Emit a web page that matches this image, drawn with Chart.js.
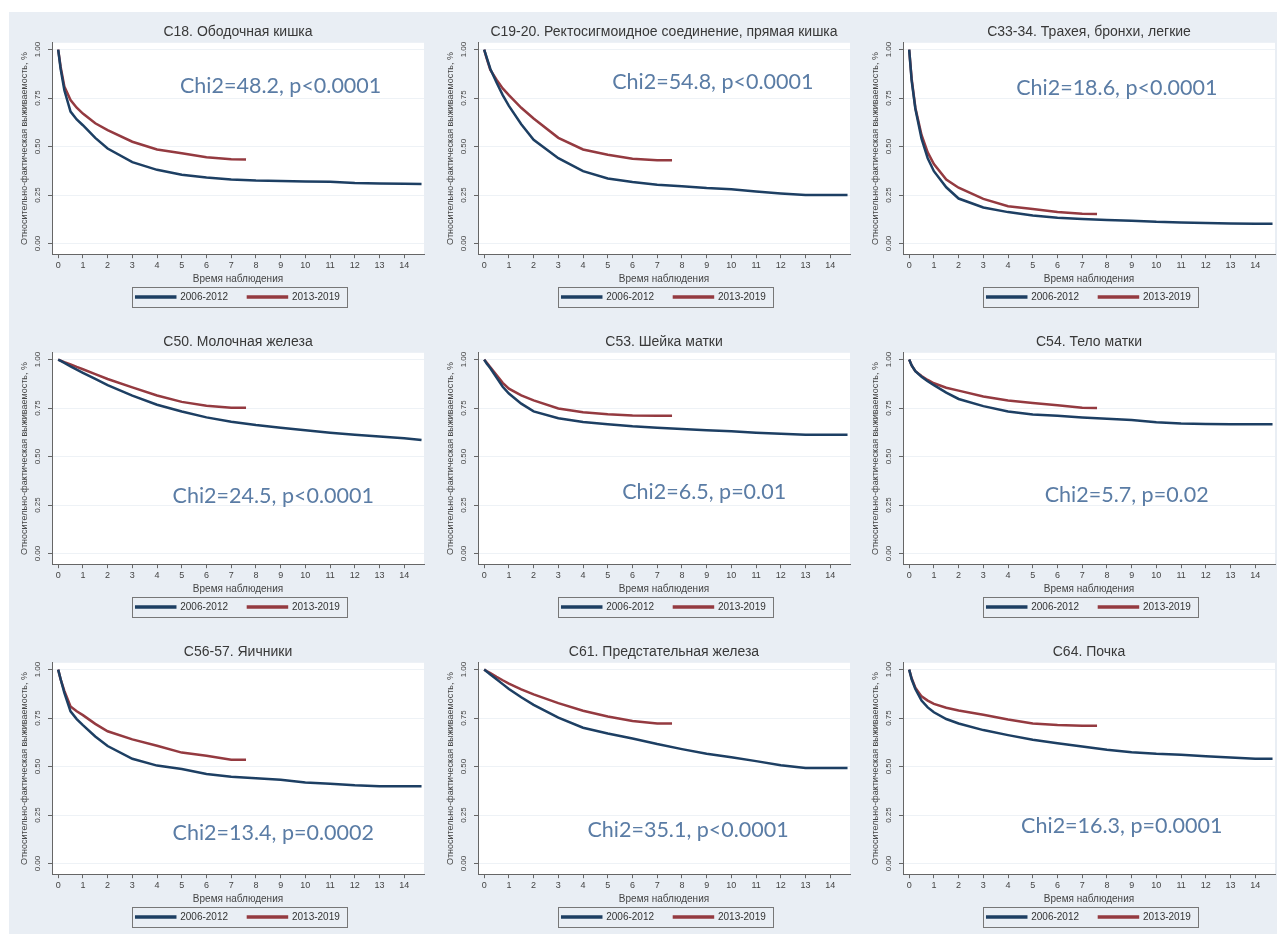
<!DOCTYPE html>
<html>
<head>
<meta charset="utf-8">
<script src="https://cdn.jsdelivr.net/npm/chart.js@4.4.1/dist/chart.umd.min.js"></script>
<style>
  html, body { margin: 0; padding: 0; background: #fff; overflow: hidden; }
  #grid { position: absolute; left: 9px; top: 12px; width: 1280px; background: #e9eef4; }
  canvas { position: absolute; }
</style>
</head>
<body>
<div id="grid"></div>
<script>
// follow-up time grid (years)
const timeOld = [0, 0.1, 0.25, 0.5, 0.75, 1, 1.5, 2, 3, 4, 5, 6, 7, 8, 9, 10, 11, 12, 13, 14, 14.7];
const timeNew = [0, 0.1, 0.25, 0.5, 0.75, 1, 1.5, 2, 3, 4, 5, 6, 7, 7.6];
const seriesLabels = ['2006-2012', '2013-2019'];
const xTicks = [0, 1, 2, 3, 4, 5, 6, 7, 8, 9, 10, 11, 12, 13, 14];
const yTicks = [0, 0.25, 0.5, 0.75, 1];

const c18Old = [1, 0.90, 0.79, 0.68, 0.64, 0.61, 0.545, 0.49, 0.42, 0.38, 0.355, 0.34, 0.33, 0.325, 0.323, 0.32, 0.318, 0.312, 0.31, 0.308, 0.307];
const c18New = [1, 0.91, 0.81, 0.74, 0.70, 0.67, 0.62, 0.585, 0.525, 0.485, 0.465, 0.445, 0.435, 0.433];
const c19Old = [1, 0.96, 0.90, 0.83, 0.765, 0.71, 0.615, 0.535, 0.44, 0.373, 0.335, 0.317, 0.303, 0.295, 0.286, 0.28, 0.268, 0.258, 0.25, 0.25, 0.25];
const c19New = [1, 0.955, 0.895, 0.845, 0.80, 0.765, 0.70, 0.645, 0.545, 0.485, 0.458, 0.437, 0.43, 0.43];
const c33Old = [1, 0.84, 0.695, 0.54, 0.44, 0.373, 0.29, 0.232, 0.186, 0.162, 0.145, 0.133, 0.126, 0.121, 0.118, 0.112, 0.109, 0.106, 0.103, 0.102, 0.102];
const c33New = [1, 0.85, 0.70, 0.56, 0.47, 0.41, 0.33, 0.288, 0.23, 0.192, 0.178, 0.162, 0.154, 0.152];
const c50Old = [1, 0.993, 0.983, 0.965, 0.948, 0.932, 0.90, 0.868, 0.814, 0.767, 0.732, 0.702, 0.68, 0.663, 0.649, 0.636, 0.623, 0.612, 0.603, 0.595, 0.585];
const c50New = [1, 0.995, 0.987, 0.975, 0.962, 0.95, 0.925, 0.90, 0.857, 0.815, 0.782, 0.762, 0.752, 0.752];
const c53Old = [1, 0.98, 0.955, 0.908, 0.86, 0.825, 0.773, 0.733, 0.698, 0.678, 0.667, 0.656, 0.648, 0.642, 0.636, 0.63, 0.623, 0.618, 0.612, 0.612, 0.612];
const c53New = [1, 0.985, 0.96, 0.92, 0.88, 0.85, 0.815, 0.79, 0.748, 0.728, 0.718, 0.712, 0.71, 0.71];
const c54Old = [1, 0.97, 0.94, 0.912, 0.888, 0.868, 0.83, 0.797, 0.76, 0.732, 0.717, 0.71, 0.702, 0.695, 0.688, 0.677, 0.671, 0.668, 0.667, 0.666, 0.666];
const c54New = [1, 0.97, 0.94, 0.915, 0.895, 0.878, 0.855, 0.84, 0.81, 0.789, 0.776, 0.765, 0.752, 0.75];
const c56Old = [1, 0.95, 0.88, 0.785, 0.745, 0.714, 0.655, 0.606, 0.54, 0.505, 0.487, 0.462, 0.447, 0.44, 0.432, 0.418, 0.412, 0.404, 0.399, 0.399, 0.399];
const c56New = [1, 0.95, 0.89, 0.81, 0.785, 0.765, 0.72, 0.682, 0.64, 0.607, 0.572, 0.556, 0.535, 0.535];
const c61Old = [1, 0.99, 0.975, 0.95, 0.925, 0.90, 0.857, 0.818, 0.752, 0.70, 0.67, 0.645, 0.616, 0.59, 0.566, 0.548, 0.528, 0.507, 0.492, 0.492, 0.492];
const c61New = [1, 0.992, 0.982, 0.963, 0.945, 0.928, 0.898, 0.872, 0.827, 0.788, 0.758, 0.735, 0.722, 0.722];
const c64Old = [1, 0.95, 0.90, 0.84, 0.805, 0.78, 0.745, 0.722, 0.688, 0.662, 0.638, 0.62, 0.603, 0.587, 0.574, 0.566, 0.561, 0.553, 0.547, 0.54, 0.54];
const c64New = [1, 0.955, 0.907, 0.862, 0.84, 0.823, 0.803, 0.789, 0.767, 0.743, 0.722, 0.714, 0.711, 0.711];

const panels = [
  { title: 'C18. Ободочная кишка', old: c18Old, now: c18New, stat: 'Chi2=48.2, p<0.0001', sx: 9.0, sy: 0.81 },
  { title: 'C19-20. Ректосигмоидное соединение, прямая кишка', old: c19Old, now: c19New, stat: 'Chi2=54.8, p<0.0001', sx: 9.25, sy: 0.83 },
  { title: 'C33-34. Трахея, бронхи, легкие', old: c33Old, now: c33New, stat: 'Chi2=18.6, p<0.0001', sx: 8.4, sy: 0.80 },
  { title: 'C50. Молочная железа', old: c50Old, now: c50New, stat: 'Chi2=24.5, p<0.0001', sx: 8.7, sy: 0.296 },
  { title: 'C53. Шейка матки', old: c53Old, now: c53New, stat: 'Chi2=6.5, p=0.01', sx: 8.9, sy: 0.316 },
  { title: 'C54. Тело матки', old: c54Old, now: c54New, stat: 'Chi2=5.7, p=0.02', sx: 8.8, sy: 0.304 },
  { title: 'C56-57. Яичники', old: c56Old, now: c56New, stat: 'Chi2=13.4, p=0.0002', sx: 8.7, sy: 0.156 },
  { title: 'C61. Предстательная железа', old: c61Old, now: c61New, stat: 'Chi2=35.1, p<0.0001', sx: 8.25, sy: 0.17 },
  { title: 'C64. Почка', old: c64Old, now: c64New, stat: 'Chi2=16.3, p=0.0001', sx: 8.6, sy: 0.194 },
];

const NAVY = '#1d3f63';
const MAROON = '#943a40';
const PANEL_W = 425, PANEL_H = 310;

Chart.defaults.font.family = "'Liberation Sans', Arial, sans-serif";
Chart.defaults.color = '#444';
Chart.defaults.animation = false;

// panel background + white plot region
const backdrop = {
  id: 'backdrop',
  beforeDraw(chart) {
    const { ctx, chartArea: a } = chart;
    ctx.save();
    ctx.fillStyle = '#e9eef4';
    ctx.fillRect(0, 0, chart.width, chart.height);
    ctx.fillStyle = '#fff';
    ctx.fillRect(a.left, a.top, a.right - a.left, a.bottom - a.top);
    ctx.restore();
  }
};

// Stata centres the title and legend on the plot region, not the whole panel
const centerOnPlot = {
  id: 'centerOnPlot',
  afterLayout(chart) {
    const a = chart.chartArea;
    [chart.titleBlock, chart.legend].forEach(b => {
      if (!b) return;
      b.left = a.left;
      b.right = a.right;
      b.width = a.right - a.left;
    });
  }
};

// frame round the legend
const legendFrame = {
  id: 'legendFrame',
  afterDraw(chart) {
    const boxes = chart.legend.legendHitBoxes;
    if (!boxes || !boxes.length) return;
    const l = Math.min(...boxes.map(b => b.left)) - 4;
    const r = Math.max(...boxes.map(b => b.left + b.width)) + 7;
    const t = Math.min(...boxes.map(b => b.top)) - 5;
    const b = Math.max(...boxes.map(b => b.top + b.height)) + 5;
    const ctx = chart.ctx;
    ctx.save();
    ctx.strokeStyle = '#777';
    ctx.lineWidth = 1;
    ctx.strokeRect(Math.round(l) + 0.5, Math.round(t) + 0.5, Math.round(r - l), Math.round(b - t));
    ctx.restore();
  }
};

// the log-rank test note
const statNote = {
  id: 'statNote',
  afterDatasetsDraw(chart, args, opts) {
    const { ctx, scales } = chart;
    ctx.save();
    ctx.font = "21.5px Lato, 'Open Sans', sans-serif";
    ctx.fillStyle = '#5a7ca5';
    ctx.textAlign = 'center';
    ctx.textBaseline = 'middle';
    ctx.fillText(opts.text, scales.x.getPixelForValue(opts.x), scales.y.getPixelForValue(opts.y));
    ctx.restore();
  }
};

const grid = document.getElementById('grid');
grid.style.height = (PANEL_H * 3) + 'px';

panels.forEach((p, i) => {
  const canvas = document.createElement('canvas');
  canvas.width = PANEL_W;
  canvas.height = PANEL_H;
  canvas.style.left = ((i % 3) * 425.5) + 'px';
  canvas.style.top = (Math.floor(i / 3) * PANEL_H) + 'px';
  grid.appendChild(canvas);

  new Chart(canvas, {
    type: 'line',
    data: {
      datasets: [
        {
          label: seriesLabels[0],
          data: timeOld.map((t, k) => ({ x: t, y: p.old[k] })),
          borderColor: NAVY, backgroundColor: NAVY,
          borderWidth: 2.5, pointRadius: 0, tension: 0,
        },
        {
          label: seriesLabels[1],
          data: timeNew.map((t, k) => ({ x: t, y: p.now[k] })),
          borderColor: MAROON, backgroundColor: MAROON,
          borderWidth: 2.5, pointRadius: 0, tension: 0,
        }
      ]
    },
    options: {
      responsive: false,
      devicePixelRatio: 1,
      layout: { padding: { left: 0, right: 10, top: 0, bottom: 10 } },
      plugins: {
        title: {
          display: true, text: p.title, color: '#383838',
          font: { size: 14, weight: 'normal' },
          padding: { top: 12, bottom: 2 }
        },
        legend: {
          position: 'bottom',
          labels: {
            boxWidth: 39, boxHeight: 1, padding: 6, color: '#333', font: { size: 10 },
            generateLabels: (chart) => {
              const items = Chart.defaults.plugins.legend.labels.generateLabels(chart);
              items[0].text += '     ';
              return items;
            }
          }
        },
        tooltip: { enabled: false },
        statNote: { text: p.stat, x: p.sx, y: p.sy }
      },
      scales: {
        x: {
          type: 'linear', min: -0.25, max: 14.8,
          afterBuildTicks: (s) => { s.ticks = xTicks.map(v => ({ value: v })); },
          ticks: { font: { size: 9 }, padding: 2, color: '#444', maxRotation: 0 },
          grid: { drawOnChartArea: false, tickLength: 4, tickColor: '#666' },
          border: { color: '#666' },
          title: { display: true, text: 'Время наблюдения', font: { size: 10 }, color: '#444', padding: { top: 0, bottom: 1 } }
        },
        y: {
          min: -0.055, max: 1.035,
          afterBuildTicks: (s) => { s.ticks = yTicks.map(v => ({ value: v })); },
          afterFit: (s) => { s.width = 43; },
          ticks: {
            font: { size: 8 }, padding: 2, color: '#444',
            minRotation: 90, maxRotation: 90, crossAlign: 'center',
            callback: (v) => Number(v).toFixed(2)
          },
          grid: { color: '#eef2f6', tickLength: 4, tickColor: '#666' },
          border: { color: '#666' },
          title: { display: true, text: 'Относительно-фактическая выживаемость, %', font: { size: 9 }, color: '#444', padding: { top: 10, bottom: 0 } }
        }
      }
    },
    plugins: [backdrop, centerOnPlot, legendFrame, statNote]
  });
});
</script>
</body>
</html>
